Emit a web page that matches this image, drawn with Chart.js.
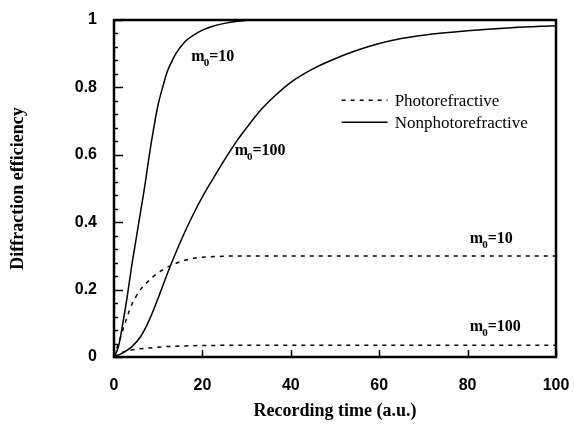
<!DOCTYPE html>
<html>
<head>
<meta charset="utf-8">
<script src="https://cdn.jsdelivr.net/npm/chart.js@4.4.1/dist/chart.umd.min.js"></script>
<style>
  html, body { margin: 0; padding: 0; background: #fff; }
  #wrap { width: 574px; height: 429px; }
</style>
</head>
<body>
<div id="wrap"><canvas id="c" width="574" height="429"></canvas></div>
<script>
// Axis ticks
const xTickValues = [0, 20, 40, 60, 80, 100];
const yTickValues = [0, 0.2, 0.4, 0.6, 0.8, 1];

// Nonphotorefractive, m0 = 10
const np10Time = [0, 1, 2, 3, 4, 5, 6, 7, 8, 9, 10, 11, 12, 13, 14, 16, 18, 20, 22, 25, 28, 32, 40, 60, 80, 100];
const np10Eff  = [0, 0.03, 0.10, 0.18, 0.27, 0.35, 0.43, 0.51, 0.60, 0.68, 0.75, 0.80, 0.845, 0.875, 0.90, 0.935, 0.955, 0.97, 0.98, 0.99, 0.996, 1, 1, 1, 1, 1];

// Nonphotorefractive, m0 = 100
const np100Time = [0, 2, 4, 6, 8, 10, 12, 14, 16, 18, 20, 22, 25, 28, 30, 33, 36, 40, 45, 50, 55, 60, 65, 70, 80, 90, 100];
const np100Eff  = [0, 0.012, 0.03, 0.06, 0.11, 0.175, 0.245, 0.31, 0.37, 0.425, 0.475, 0.52, 0.585, 0.645, 0.68, 0.73, 0.77, 0.815, 0.855, 0.885, 0.91, 0.93, 0.945, 0.955, 0.968, 0.977, 0.983];

// Photorefractive, m0 = 10
const pr10Time = [0, 1, 2, 3, 4, 5, 6, 7, 8, 9, 10, 12, 14, 16, 18, 20, 25, 30, 40, 100];
const pr10Eff  = [0, 0.04, 0.08, 0.12, 0.155, 0.18, 0.20, 0.215, 0.228, 0.24, 0.25, 0.266, 0.278, 0.287, 0.293, 0.296, 0.299, 0.3, 0.3, 0.3];

// Photorefractive, m0 = 100
const pr100Time = [0, 1, 2, 3, 5, 8, 12, 16, 20, 30, 100];
const pr100Eff  = [0, 0.008, 0.014, 0.018, 0.023, 0.027, 0.031, 0.033, 0.034, 0.035, 0.035];

// Curve labels: [text before subscript, subscript, text after, time, efficiency]
const curveLabels = [
  ['m', '0', '=10', 17.5, 0.89],
  ['m', '0', '=100', 27.3, 0.611],
  ['m', '0', '=10', 80.5, 0.35],
  ['m', '0', '=100', 80.5, 0.09]
];

const legendItems = [
  { text: 'Photorefractive', dash: [4, 5] },
  { text: 'Nonphotorefractive', dash: [] }
];

const toPoints = (t, v) => t.map((x, i) => ({ x: x, y: v[i] }));

const SERIF = '"Liberation Serif", "Times New Roman", serif';
const SANS = '"Liberation Sans", Arial, sans-serif';

function lineSet(t, v, dash) {
  return {
    data: toPoints(t, v),
    borderColor: '#000',
    borderWidth: 1.5,
    borderDash: dash,
    pointRadius: 0,
    fill: false,
    cubicInterpolationMode: 'monotone'
  };
}

// Frame, inward tick marks, legend and curve labels
const decorations = {
  id: 'decorations',
  afterDraw(chart) {
    const { ctx, chartArea: a, scales: { x, y } } = chart;
    ctx.save();
    ctx.strokeStyle = '#000';
    ctx.fillStyle = '#000';

    // y ticks (major + minor), pointing into the plot
    ctx.lineWidth = 1.5;
    for (let k = 0; k <= 25; k++) {
      const v = k * 0.04;
      const py = Math.round(y.getPixelForValue(v)) + 0.5;
      const major = yTickValues.some(t => Math.abs(t - v) < 1e-6);
      ctx.beginPath();
      ctx.moveTo(a.left, py);
      ctx.lineTo(a.left + (major ? 9 : 4), py);
      ctx.stroke();
    }
    // x ticks
    xTickValues.forEach(t => {
      const px = Math.round(x.getPixelForValue(t)) + 0.5;
      ctx.beginPath();
      ctx.moveTo(px, a.bottom);
      ctx.lineTo(px, a.bottom - 7);
      ctx.stroke();
    });

    // frame
    ctx.lineWidth = 2.5;
    ctx.strokeRect(a.left, a.top, a.right - a.left, a.bottom - a.top);

    // legend
    ctx.lineWidth = 1.5;
    ctx.font = '17px ' + SERIF;
    ctx.textBaseline = 'middle';
    ctx.textAlign = 'left';
    const lx = x.getPixelForValue(51.5), lw = 46;
    legendItems.forEach((it, i) => {
      const ly = y.getPixelForValue(0.762) + i * 22;
      ctx.setLineDash(it.dash);
      ctx.beginPath();
      ctx.moveTo(lx, ly);
      ctx.lineTo(lx + lw, ly);
      ctx.stroke();
      ctx.setLineDash([]);
      ctx.fillText(it.text, lx + lw + 7, ly + 1);
    });

    // curve labels
    curveLabels.forEach(([m, sub, rest, t, v]) => {
      let px = x.getPixelForValue(t);
      const py = y.getPixelForValue(v);
      ctx.font = 'bold 16px ' + SERIF;
      ctx.fillText(m, px, py);
      px += ctx.measureText(m).width;
      ctx.font = 'bold 11px ' + SERIF;
      ctx.fillText(sub, px - 1, py + 6);
      px += ctx.measureText(sub).width - 1;
      ctx.font = 'bold 16px ' + SERIF;
      ctx.fillText(rest, px, py);
    });
    ctx.restore();
  }
};

new Chart(document.getElementById('c'), {
  type: 'line',
  data: {
    datasets: [
      lineSet(np10Time, np10Eff, []),
      lineSet(np100Time, np100Eff, []),
      lineSet(pr10Time, pr10Eff, [4, 5]),
      lineSet(pr100Time, pr100Eff, [4, 5])
    ]
  },
  options: {
    responsive: false,
    animation: false,
    devicePixelRatio: 1,
    layout: { padding: { top: 20, right: 18, left: 0, bottom: 0 } },
    plugins: { legend: { display: false }, tooltip: { enabled: false } },
    scales: {
      x: {
        type: 'linear',
        min: 0,
        max: 100,
        afterBuildTicks: s => { s.ticks = xTickValues.map(v => ({ value: v })); },
        afterFit: s => { s.height = 72; s.paddingLeft = 0; s.paddingRight = 0; },
        grid: { display: false, drawTicks: false },
        border: { display: false },
        ticks: {
          color: '#000',
          padding: 19,
          maxRotation: 0,
          font: { family: SANS, size: 16, weight: 'bold' }
        },
        title: {
          display: true,
          text: 'Recording time (a.u.)',
          color: '#000',
          padding: { top: 0, bottom: 7 },
          font: { family: SERIF, size: 18, weight: 'bold' }
        }
      },
      y: {
        type: 'linear',
        min: 0,
        max: 1,
        afterBuildTicks: s => { s.ticks = yTickValues.map(v => ({ value: v })); },
        afterFit: s => { s.width = 114; s.paddingTop = 0; s.paddingBottom = 0; },
        grid: { display: false, drawTicks: false },
        border: { display: false },
        ticks: {
          color: '#000',
          padding: 17,
          font: { family: SANS, size: 16, weight: 'bold' },
          callback: v => (v === 0 || v === 1) ? String(v) : v.toFixed(1)
        },
        title: {
          display: true,
          text: 'Diffraction efficiency',
          color: '#000',
          padding: { top: 8, bottom: 0 },
          font: { family: SERIF, size: 18, weight: 'bold' }
        }
      }
    }
  },
  plugins: [decorations]
});
</script>
</body>
</html>
